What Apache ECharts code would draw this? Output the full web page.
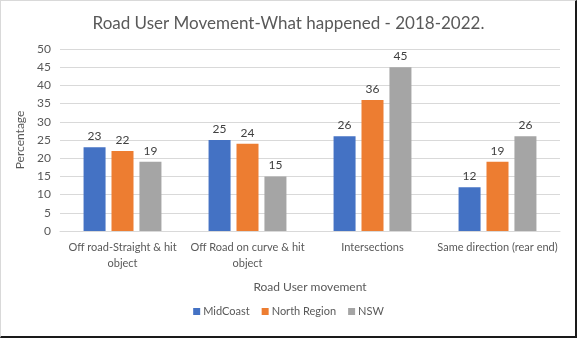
<!DOCTYPE html>
<html>
<head>
<meta charset="utf-8">
<script src="https://cdn.jsdelivr.net/npm/echarts@6/dist/echarts.min.js"></script>
<style>
  html, body { margin: 0; padding: 0; background: #fff; }
  #wrap { position: relative; width: 577px; height: 338px; }
  #chart { position: absolute; left: 0; top: 0; width: 577px; height: 338px; }
  #frame { position: absolute; left: 0; top: 0; width: 577px; height: 338px; box-sizing: border-box;
           border-left: 1px solid #d9d9d9; border-top: 1px solid #d9d9d9;
           border-right: 2px solid #1a1a1a; border-bottom: 2px solid #1a1a1a; pointer-events: none; }
</style>
</head>
<body>
<div id="wrap"><div id="chart"></div><div id="frame"></div></div>
<script>
const categories = ["Off road-Straight & hit\nobject", "Off Road on curve & hit\nobject", "Intersections", "Same direction (rear end)"];
const midCoast = [23, 25, 26, 12];
const northRegion = [22, 24, 36, 19];
const nsw = [19, 15, 45, 26];
const seriesNames = ["MidCoast", "North Region", "NSW"];
const colors = ["#4472C4", "#ED7D31", "#A5A5A5"];

const FONT = "Lato";
const chart = echarts.init(document.getElementById('chart'));
const labelStyle = { show: true, position: 'top', distance: 5, color: '#404040', fontSize: 12, fontFamily: FONT };
function mk(name, data, color) {
  return { name, type: 'bar', data, barWidth: 22, barGap: '27%', itemStyle: { color }, label: labelStyle };
}
chart.setOption({
  animation: false,
  title: {
    text: 'Road User Movement-What happened - 2018-2022.',
    left: 'center', top: 10,
    textStyle: { fontFamily: FONT, fontSize: 17, fontWeight: 'normal', color: '#595959' }
  },
  legend: {
    bottom: 16, left: 'center', itemWidth: 7, itemHeight: 7, itemGap: 12,
    icon: 'rect',
    textStyle: { fontFamily: FONT, fontSize: 11, color: '#595959', padding: [0, 0, 0, -2] },
    data: seriesNames
  },
  grid: { left: 60, right: 17, top: 49, bottom: 107, containLabel: false },
  xAxis: {
    type: 'category', data: categories,
    name: 'Road User movement', nameLocation: 'middle', nameGap: 50,
    nameTextStyle: { fontFamily: FONT, fontSize: 12, color: '#595959' },
    axisLine: { lineStyle: { color: '#d9d9d9' } },
    axisTick: { show: false },
    axisLabel: { fontFamily: FONT, fontSize: 11, color: '#595959', margin: 8, lineHeight: 16, interval: 0 }
  },
  yAxis: {
    type: 'value', min: 0, max: 50, interval: 5,
    name: 'Percentage', nameLocation: 'middle', nameGap: 31,
    nameTextStyle: { fontFamily: FONT, fontSize: 12, color: '#595959' },
    axisLine: { show: false }, axisTick: { show: false },
    splitLine: { lineStyle: { color: '#d9d9d9' } },
    axisLabel: { fontFamily: FONT, fontSize: 12, color: '#595959', margin: 9 }
  },
  series: [
    mk(seriesNames[0], midCoast, colors[0]),
    mk(seriesNames[1], northRegion, colors[1]),
    mk(seriesNames[2], nsw, colors[2])
  ]
});
</script>
</body>
</html>
